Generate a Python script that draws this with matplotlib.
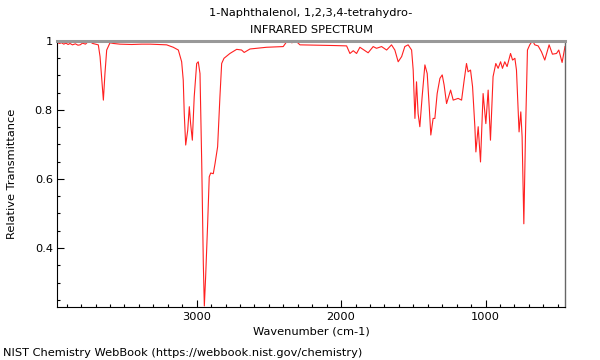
import matplotlib
matplotlib.use("Agg")
import matplotlib.pyplot as plt
from matplotlib.ticker import MultipleLocator, FuncFormatter

title_line1 = "1-Naphthalenol, 1,2,3,4-tetrahydro-"
title_line2 = "INFRARED SPECTRUM"
x_label = "Wavenumber (cm-1)"
y_label = "Relative Transmittance"
footer = "NIST Chemistry WebBook (https://webbook.nist.gov/chemistry)"

wavenumber = [3967, 3950, 3935, 3920, 3905, 3890, 3877, 3860, 3840, 3822, 3807, 3790, 3770,
              3755, 3738, 3720, 3700, 3681, 3669, 3657, 3646,
              3635, 3623, 3600, 3577, 3531, 3450, 3380, 3323, 3260, 3208, 3162, 3127, 3104,
              3093, 3086, 3076, 3062, 3051, 3042, 3030, 3017, 3000, 2989, 2977, 2965, 2954,
              2947, 2938, 2924, 2913, 2903, 2885, 2873, 2855, 2839, 2827, 2811, 2770, 2723,
              2689, 2671, 2631, 2516, 2401, 2377, 2354, 2343, 2308, 2285, 2150, 2050, 1962,
              1939, 1916, 1893, 1870, 1835, 1813, 1778, 1755, 1720, 1685, 1651, 1628, 1605,
              1581, 1559, 1536, 1512, 1501, 1489, 1478, 1467, 1455, 1439, 1420, 1404, 1390,
              1379, 1363, 1351, 1335, 1316, 1300, 1287, 1270, 1242, 1224, 1190, 1166, 1148,
              1132, 1121, 1104, 1090, 1074, 1067, 1051, 1035, 1017, 998, 982, 966, 948, 929,
              913, 896, 883, 867, 851, 827, 813, 797, 786, 768, 756, 747, 735, 723, 710, 694,
              675, 659, 636, 613, 590, 560, 537, 509, 493, 470, 456, 450]
transmittance = [0.995, 0.992, 0.994, 0.990, 0.993, 0.989, 0.992, 0.988, 0.991, 0.987, 0.988,
                 0.993, 0.990, 0.996, 0.997, 0.992, 0.990, 0.988, 0.954,
                 0.886, 0.828, 0.905, 0.973, 0.994, 0.992, 0.990, 0.989, 0.990, 0.990, 0.989,
                 0.988, 0.981, 0.973, 0.939, 0.886, 0.789, 0.698, 0.741, 0.809, 0.760, 0.712,
                 0.838, 0.934, 0.939, 0.905, 0.645, 0.355, 0.232, 0.316, 0.471, 0.606, 0.617,
                 0.615, 0.644, 0.693, 0.838, 0.934, 0.949, 0.963, 0.975, 0.973, 0.966, 0.976,
                 0.981, 0.983, 0.997, 1.000, 0.994, 0.997, 0.988, 0.987, 0.986, 0.985, 0.963,
                 0.971, 0.963, 0.981, 0.971, 0.965, 0.983, 0.978, 0.983, 0.973, 0.988, 0.973,
                 0.939, 0.954, 0.983, 0.988, 0.973, 0.915, 0.775, 0.881, 0.789, 0.751, 0.838,
                 0.930, 0.905, 0.809, 0.727, 0.775, 0.775, 0.847, 0.891, 0.901, 0.872, 0.818,
                 0.857, 0.828, 0.833, 0.828, 0.886, 0.934, 0.910, 0.915, 0.867, 0.751, 0.678,
                 0.751, 0.649, 0.847, 0.760, 0.857, 0.712, 0.896, 0.934, 0.920, 0.939, 0.920,
                 0.939, 0.925, 0.963, 0.944, 0.949, 0.915, 0.736, 0.794, 0.722, 0.470, 0.741,
                 0.973, 0.988, 1.000, 0.988, 0.985, 0.968, 0.944, 0.988, 0.961, 0.963, 0.973,
                 0.937, 0.968, 0.983]

fs = 8.2
fig = plt.figure(figsize=(6, 3.6), dpi=100)
ax = fig.add_axes([57/600, 1-306.7/360, (565-57)/600, (306.7-40.7)/360])
ax.plot(wavenumber, transmittance, color="#ff2020", lw=0.8)
ax.set_xlim(3967, 450)
ax.set_ylim(0.23, 1.0)

ax.xaxis.set_major_locator(MultipleLocator(1000))
ax.xaxis.set_minor_locator(MultipleLocator(100))
ax.yaxis.set_major_locator(MultipleLocator(0.2))
ax.yaxis.set_minor_locator(MultipleLocator(0.05))
ax.yaxis.set_major_formatter(FuncFormatter(lambda v, p: "%g" % round(v, 2)))
ax.tick_params(which="both", direction="in", labelsize=fs, colors="black", width=0.8)
ax.tick_params(which="major", length=5, pad=4)
ax.tick_params(which="minor", length=2.5)
ax.tick_params(axis="y", which="major", pad=3)

ax.spines["top"].set_color("#999999")
ax.spines["top"].set_linewidth(2.2)
ax.spines["right"].set_color("#666666")
ax.spines["right"].set_linewidth(1.0)
ax.spines["left"].set_linewidth(0.8)
ax.spines["bottom"].set_linewidth(0.8)

ax.set_xlabel(x_label, fontsize=fs, labelpad=3)
ax.set_ylabel(y_label, fontsize=fs, labelpad=13)

fig.text(311/600, 1-13/360, title_line1, ha="center", va="center", fontsize=fs)
fig.text(311/600, 1-30/360, title_line2, ha="center", va="center", fontsize=fs)
fig.text(3/600, 1-353/360, footer, ha="left", va="center", fontsize=fs)

fig.savefig("out.png", dpi=100)
